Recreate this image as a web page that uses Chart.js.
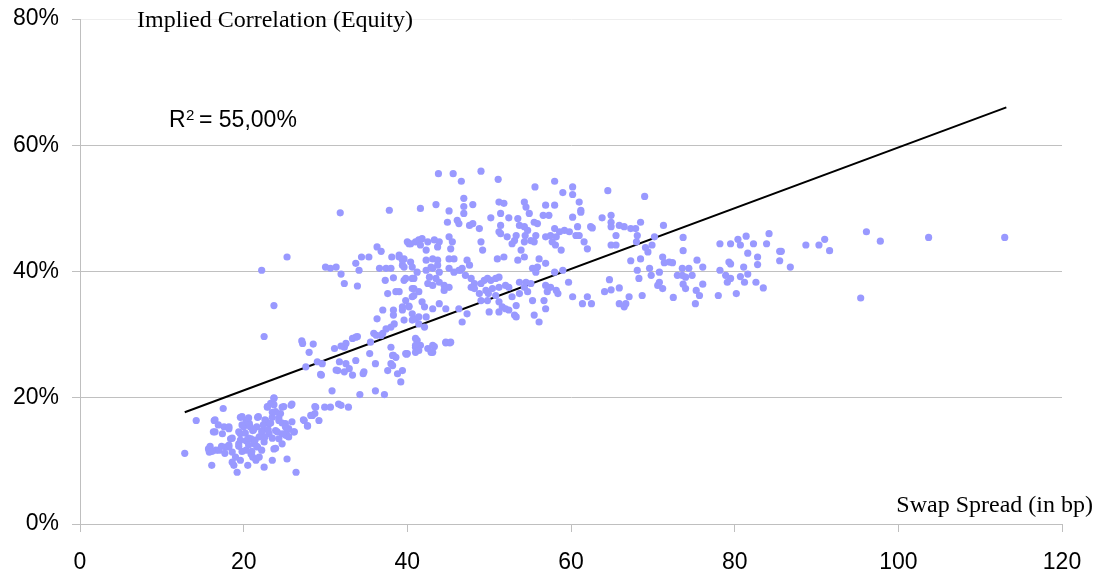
<!DOCTYPE html>
<html>
<head>
<meta charset="utf-8">
<script src="https://cdn.jsdelivr.net/npm/chart.js@4"></script>
<style>
  body { margin: 0; background: #fff; }
  #wrap { width: 1098px; height: 574px; }
</style>
</head>
<body>
<div id="wrap"><canvas id="chart"></canvas></div>
<script>
// swap spread (bp) and implied correlation (%)
const spreadX = [
  12.8,14.2,17.5,16.4,16.3,15.7,15.8,16.1,17.6,18.2,17.4,18.4,17.0,17.8,18.6,19.0,18.8,19.2,19.6,20.3,
  19.6,20.0,20.7,21.1,21.7,19.4,20.3,20.9,21.3,21.9,22.3,22.7,23.1,23.5,22.9,23.7,23.5,24.7,25.8,24.3,
  25.1,25.5,26.2,24.7,23.9,23.1,22.5,21.7,21.1,21.5,20.5,23.7,23.5,22.5,25.3,26.4,24.5,23.3,27.4,27.8,
  28.8,28.4,18.2,16.6,18.6,19.6,20.9,20.3,21.9,24.7,25.3,24.3,
  22.9,23.7,24.9,25.9,23.9,16.5,16.9,18.2,16.5,19.8,20.6,21.8,22.6,19.8,20.8,21.6,22.4,23.3,24.3,24.7,
  25.1,25.9,19.4,20.2,21.2,22.2,23.0,24.1,25.3,26.1,18.6,19.6,20.6,21.4,22.6,23.5,25.1,25.5,15.9,17.3,
  18.2,19.4,20.6,21.6,23.9,16.1,17.7,19.8,21.0,22.2,
  22.2,22.5,23.7,25.3,23.7,
  31.8,37.8,30.0,30.6,31.3,31.9,32.3,33.9,33.7,34.1,34.4,35.3,36.3,36.8,36.6,37.4,38.0,37.3,38.3,38.1,
  39.0,39.6,39.4,40.4,40.2,41.0,39.6,40.6,37.6,38.6,40.8,40.6,40.2,39.4,37.0,38.3,38.3,36.3,38.4,38.0,
  37.4,41.0,41.0,41.0,35.9,35.5,36.8,33.7,33.3,32.5,32.3,31.1,27.1,27.2,28.5,28.0,29.0,29.6,27.6,29.4,
  31.7,32.5,33.7,32.9,31.5,32.3,33.3,34.7,35.4,36.1,38.0,38.3,38.0,37.6,38.8,39.4,39.2,40.0,41.0,30.8,
  34.2,36.1,37.2,
  33.9,36.2,36.8,37.0,38.2,38.6,38.2,39.9,41.2,41.6,42.5,43.1,43.3,44.7,45.2,28.7,29.9,30.6,31.6,31.9,
  32.8,28.2,28.7,29.2,27.3,27.8,31.3,34.6,29.5,31.9,
  43.8,45.6,46.6,49.0,51.1,58.0,55.6,59.0,60.2,60.2,41.6,43.5,46.9,46.9,48.0,45.1,46.9,51.2,51.8,54.3,
  54.5,56.9,58.0,61.0,61.2,44.9,46.1,46.3,47.6,48.0,48.8,50.2,51.4,51.4,51.4,52.4,53.5,53.7,54.9,55.5,
  55.9,56.6,57.3,54.3,54.7,54.4,53.3,53.1,52.2,51.2,55.7,55.1,55.5,56.9,57.5,58.0,58.2,58.6,59.2,59.8,
  60.6,60.8,60.2,61.2,62.4,61.6,62.0,57.7,58.1,58.8,40.0,40.4,41.4,41.8,41.6,42.5,42.3,43.3,43.9,43.7,
  45.1,45.5,45.3,43.1,42.3,42.9,43.7,45.1,45.7,45.1,47.3,47.6,46.3,46.7,49.0,49.2,51.0,51.8,52.8,53.9,
  54.3,53.5,54.3,56.1,55.3,55.9,56.9,58.0,59.0,39.0,39.4,39.6,40.6,41.2,39.8,40.8,42.3,43.1,43.7,43.9,
  43.5,42.7,42.5,43.1,43.9,44.5,45.1,44.5,40.6,41.4,40.8,39.8,39.4,40.2,40.6,41.8,42.1,41.4,42.3,43.1,
  43.9,44.7,46.3,47.3,46.7,45.7,46.5,47.1,47.8,48.2,47.8,48.2,49.0,49.4,49.8,50.2,50.8,51.2,48.8,49.6,
  50.4,51.2,52.0,52.4,49.0,49.8,49.9,50.8,51.2,51.6,52.0,50.0,51.2,52.4,53.1,53.3,52.8,53.7,54.3,54.7,
  55.3,53.7,54.5,55.1,55.7,56.9,57.5,57.1,58.2,55.5,56.1,56.7,56.9,58.4,59.7,60.2,61.4,62.0,62.5,53.3,
  39.6,40.6,41.4,42.1,41.2,41.0,41.4,43.1,42.9,39.8,44.7,45.3,39.0,
  64.5,69.0,63.8,64.9,64.9,64.9,62.6,65.9,66.5,67.3,67.9,68.1,68.5,65.5,61.0,70.2,71.3,64.9,65.5,68.0,
  69.1,69.4,69.9,73.7,73.7,67.3,68.5,68.1,68.3,69.6,69.8,70.8,71.2,71.4,72.0,72.4,70.8,71.2,70.6,68.7,
  67.1,66.7,65.9,66.5,64.7,64.1,64.9,65.9,72.5,73.0,73.6,74.4,73.6,74.0,74.8,73.7,74.0,75.3,75.7,75.2,
  76.1,75.4,76.1,78.0,78.2,78.9,79.3,79.5,79.1,79.5,80.2,80.7,81.1,81.6,81.2,82.6,83.5,82.8,82.8,78.2,
  79.5,80.4,80.7,81.4,81.6,82.3,83.9,84.2,85.5,85.7,85.5,86.8,88.7,90.3,91.0,91.6,
  96.1,97.8,103.7,113.0,95.4
];
const corrY = [
  11.2,16.4,18.3,16.4,14.6,11.9,11.4,9.3,15.4,15.1,14.3,13.5,11.7,12.2,11.4,10.6,9.3,8.2,16.9,16.4,
  14.3,15.4,15.9,14.8,16.9,12.7,13.2,13.5,12.7,13.8,14.8,16.4,15.9,16.9,18.5,19.9,17.7,18.5,18.8,16.4,
  15.9,15.1,14.6,14.3,14.8,14.3,13.0,12.2,10.6,10.1,9.3,11.9,10.1,9.0,10.3,8.2,17.5,19.1,16.4,15.6,
  18.5,17.2,12.2,11.7,9.8,10.1,11.1,11.7,10.6,12.7,14.0,13.5,
  18.6,18.9,18.6,19.0,17.8,16.5,15.7,15.4,14.6,17.0,16.8,17.0,16.5,15.7,15.4,15.4,15.7,16.0,16.8,16.0,
  15.4,16.2,14.6,14.4,14.9,14.6,14.9,14.6,14.9,14.6,13.6,13.3,13.6,13.3,13.8,13.6,14.1,13.8,12.3,12.3,
  12.5,12.3,12.5,12.3,12.0,11.5,11.2,11.5,11.5,11.7,
  40.2,29.7,34.6,42.3,20.0,
  49.3,49.7,40.7,40.5,40.7,39.6,38.1,37.7,41.3,40.2,42.3,42.3,43.9,43.2,40.5,40.5,40.5,38.6,39.0,42.3,
  42.6,42.0,41.0,41.5,44.4,44.7,38.6,38.9,36.5,36.8,37.3,36.0,34.5,33.9,33.9,33.9,33.1,32.5,31.7,31.2,
  30.9,32.5,29.4,28.0,30.2,28.8,29.9,29.6,29.4,28.6,28.0,27.8,29.0,28.6,28.5,27.2,25.7,25.4,24.9,23.7,
  25.7,25.4,25.9,24.6,24.3,24.1,23.6,24.1,27.0,25.4,28.0,26.7,25.4,24.3,23.8,24.3,22.5,27.0,27.2,21.1,
  20.5,21.1,20.5,
  29.7,29.9,29.9,30.2,26.7,26.4,25.1,26.9,28.3,28.3,27.8,27.2,28.1,28.7,28.7,18.6,18.5,18.5,19.0,18.8,
  18.5,17.2,17.5,16.4,16.5,15.5,24.4,23.8,23.6,28.2,
  55.5,55.5,54.3,55.9,54.6,54.3,53.4,52.5,53.4,52.2,50.0,50.6,51.6,50.3,50.6,49.6,49.2,51.0,50.8,51.0,
  50.2,50.5,50.5,51.0,49.7,47.8,48.1,47.6,47.3,47.6,46.8,48.5,49.2,47.3,46.0,48.5,48.4,47.3,49.2,47.8,
  47.6,48.9,48.9,47.1,46.5,45.7,45.7,44.9,45.5,46.3,45.7,44.9,44.7,45.5,45.7,46.8,45.5,46.3,46.5,46.3,
  45.7,47.1,48.6,49.4,47.1,44.7,43.6,44.7,44.2,43.4,44.7,44.4,45.0,45.2,44.2,44.7,43.4,45.0,44.7,43.9,
  45.5,44.7,43.6,42.0,41.8,40.7,41.8,42.0,42.0,40.5,41.8,41.0,40.2,40.5,44.7,43.4,42.0,42.3,44.4,43.4,
  44.7,41.8,42.3,42.0,40.5,40.7,41.3,39.9,40.2,42.3,41.8,40.7,40.7,39.9,38.9,38.9,40.2,40.5,41.0,39.9,
  38.9,39.1,38.1,37.8,38.3,37.8,37.5,37.0,37.3,36.8,36.2,35.4,34.4,34.4,33.3,35.2,34.4,32.8,32.8,34.1,
  34.9,34.1,34.1,33.3,32.0,39.9,40.2,39.4,38.9,38.1,37.5,37.3,38.1,38.6,38.9,38.6,38.9,39.1,36.5,37.0,
  37.3,37.5,37.8,37.5,35.4,35.4,36.5,36.2,35.2,34.4,34.1,33.6,33.6,33.9,33.1,34.6,36.0,36.5,37.5,36.8,
  35.4,38.3,38.3,38.1,39.9,37.8,37.5,36.8,37.0,33.1,32.0,35.4,34.1,36.5,38.3,36.0,34.9,36.0,34.9,32.8,
  32.3,32.3,31.7,31.2,29.1,28.3,27.5,28.3,27.2,27.0,28.8,28.8,36.8,
  52.8,51.9,48.5,48.9,47.8,47.1,46.9,47.3,47.1,46.8,46.8,45.7,47.8,45.7,45.7,45.5,47.3,44.2,44.2,44.7,
  43.8,43.1,44.2,45.4,43.3,41.7,42.0,40.2,38.9,40.5,39.4,39.9,42.3,41.4,41.5,41.4,38.3,37.3,37.8,36.2,
  36.0,34.9,34.9,34.4,38.7,36.8,37.1,37.4,35.9,39.4,40.5,40.5,39.4,39.1,39.4,38.0,37.3,37.0,36.2,34.9,
  38.0,41.8,40.7,36.2,40.2,39.4,41.5,41.2,38.3,38.9,36.5,39.2,40.7,39.6,38.3,38.3,37.4,42.3,41.1,44.4,
  44.4,45.1,44.2,45.6,42.9,44.4,44.4,46.0,43.2,43.2,41.7,40.7,44.2,44.2,45.1,43.3,
  46.3,44.8,45.4,45.4,35.8
];
// linear trend line end points
const trendX = [12.8, 113.2];
const trendY = [17.7, 66.0];
const xTickStep = 20;
const yTickStep = 20;

const points = spreadX.map((x, i) => ({ x: x, y: corrY[i] }));
const trend = trendX.map((x, i) => ({ x: x, y: trendY[i] }));

const textPlugin = {
  id: "labels",
  afterDraw(chart) {
    const ctx = chart.ctx;
    ctx.save();
    ctx.fillStyle = "#000";
    ctx.textBaseline = "alphabetic";
    ctx.textAlign = "left";
    ctx.font = '24px "Liberation Serif"';
    ctx.fillText("Implied Correlation (Equity)", 137, 27);
    ctx.textAlign = "right";
    ctx.fillText("Swap Spread (in bp)", 1093, 512);
    ctx.textAlign = "left";
    ctx.font = '23px "Liberation Sans"';
    ctx.fillText("R", 169, 127);
    ctx.font = '15px "Liberation Sans"';
    ctx.fillText("2", 186, 120);
    ctx.font = '23px "Liberation Sans"';
    ctx.fillText("= 55,00%", 199, 127);
    ctx.restore();
  },
};

new Chart(document.getElementById("chart"), {
  type: "scatter",
  data: {
    datasets: [
      {
        label: "Correlation",
        data: points,
        backgroundColor: "#9999ff",
        borderWidth: 0,
        pointRadius: 3.6,
      },
      {
        type: "line",
        label: "Trend",
        data: trend,
        borderColor: "#000",
        borderWidth: 2,
        pointRadius: 0,
        fill: false,
      },
    ],
  },
  options: {
    responsive: true,
    maintainAspectRatio: false,
    animation: false,
    layout: { padding: { left: 0, right: 36, top: 19, bottom: 0 } },
    plugins: { legend: { display: false }, tooltip: { enabled: false } },
    scales: {
      x: {
        type: "linear",
        min: 0,
        max: 120,
        ticks: {
          stepSize: xTickStep,
          color: "#000",
          font: { family: "Liberation Sans", size: 23 },
          padding: 17,
          maxRotation: 0,
        },
        grid: {
          drawOnChartArea: false,
          tickLength: 8,
          tickColor: "#bfbfbf",
        },
        border: { color: "#bfbfbf" },
        afterFit(scale) {
          scale.height = 50;
          scale.paddingLeft = 0;
          scale.paddingRight = 0;
        },
      },
      y: {
        min: 0,
        max: 80,
        ticks: {
          stepSize: yTickStep,
          color: "#000",
          font: { family: "Liberation Sans", size: 23 },
          padding: 13,
          callback: (v) => v + "%",
        },
        grid: {
          color: (c) => (c.tick && c.tick.value === 80 ? "#eeeeee" : "#c0c0c0"),
          tickColor: "#bfbfbf",
          tickLength: 8,
        },
        border: { color: "#bfbfbf" },
        afterFit(scale) {
          scale.width = 80;
          scale.paddingTop = 0;
          scale.paddingBottom = 0;
        },
      },
    },
  },
  plugins: [textPlugin],
});
</script>
</body>
</html>
